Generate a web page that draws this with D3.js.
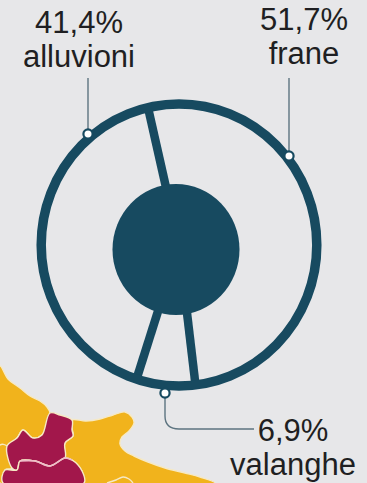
<!DOCTYPE html>
<html>
<head>
<meta charset="utf-8">
<script src="https://cdn.jsdelivr.net/npm/d3@7/dist/d3.min.js"></script>
<style>
  html, body { margin: 0; padding: 0; background: #e7e7e9; }
  svg { display: block; }
  text { font-family: "Liberation Sans", Arial, sans-serif; fill: #1f1f22; }
</style>
</head>
<body>
<svg id="chart" width="367" height="483"></svg>
<script>
// Share of events by hazard type, in percent
const hazards = ["frane", "valanghe", "alluvioni"];
const shares = [51.7, 6.9, 41.4];
const shareLabels = ["51,7%", "6,9%", "41,4%"];

// Regional outlines of the map fragment behind the wheel (page pixels)
const coastNorth = [[0,366],[8,379],[20,388],[30,396],[40,401],[47,407],[50,413],[47,424],[42,435],[33,438],[23,430],[17,438],[7,446],[0,445]];
const inlandWest = [[0,445],[7,446],[12,468],[5,470],[3,483],[0,483]];
const heel = [[72,420],[86,421],[100,419],[113,415],[125,412],[132,417],[134,423],[129,431],[122,437],[120,444],[125,451],[134,456],[148,462],[165,468],[185,473],[200,477],[215,483],[84,483],[82,471],[72,460],[65,458],[65,443],[73,436],[72,428]];
const upperRegion = [[50,413],[60,415],[72,420],[72,430],[73,436],[65,443],[65,458],[50,466],[35,461],[20,461],[17,470],[12,468],[7,446],[17,438],[23,430],[33,438],[42,435]];
const lowerRegion = [[20,461],[35,461],[50,466],[65,458],[72,460],[82,471],[84,483],[3,483],[5,470],[17,470]];
const innerBorder = [[107,483],[116,480],[123,477],[129,479],[133,483]];

const svg = d3.select("#chart");
const ink = "#174a60";
const ring = { cx: 179, cy: 245, rx: 137.8, ry: 141 };
const hub = { cx: 176, cy: 249.5, rx: 63.5, ry: 65.5 };

const outline = d3.line().curve(d3.curveCatmullRomClosed.alpha(0.5));
const openOutline = d3.line().curve(d3.curveCatmullRom.alpha(0.5));

// Map fragment
const map = svg.append("g").attr("stroke", "#f6e9c4").attr("stroke-width", 1.4).attr("stroke-linejoin", "round");
[[coastNorth, "#f1b31c"], [inlandWest, "#f1b31c"], [heel, "#f1b31c"],
 [upperRegion, "#a2174b"], [lowerRegion, "#a2174b"]].forEach(([pts, fill]) => {
  map.append("path").attr("d", outline(pts)).attr("fill", fill);
});
map.append("path").attr("d", openOutline(innerBorder)).attr("fill", "none");
svg.append("path").attr("d", openOutline(lowerRegion.slice(0, 5)))
  .attr("fill", "none").attr("stroke", "#eebcc9").attr("stroke-width", 1.6);

// Wheel: one spoke at each slice boundary of the pie layout
const pie = d3.pie().sort(null)
  .startAngle(-13 * Math.PI / 180)
  .endAngle((360 - 13) * Math.PI / 180);
const slices = pie(shares);
const onRing = (angle, k) => [ring.cx + k * ring.rx * Math.sin(angle), ring.cy - k * ring.ry * Math.cos(angle)];

const wheel = svg.append("g");
wheel.selectAll("line.spoke")
  .data(slices)
  .join("line")
  .attr("class", "spoke")
  .attr("x1", d => onRing(d.startAngle, 0.4)[0])
  .attr("y1", d => onRing(d.startAngle, 0.4)[1])
  .attr("x2", d => onRing(d.startAngle, 1)[0])
  .attr("y2", d => onRing(d.startAngle, 1)[1])
  .attr("stroke", ink)
  .attr("stroke-width", 8.5);
wheel.append("ellipse")
  .attr("cx", ring.cx).attr("cy", ring.cy).attr("rx", ring.rx).attr("ry", ring.ry)
  .attr("fill", "none").attr("stroke", ink).attr("stroke-width", 9.5);
wheel.append("ellipse")
  .attr("cx", hub.cx).attr("cy", hub.cy).attr("rx", hub.rx).attr("ry", hub.ry)
  .attr("fill", ink);

// Leader lines with their anchor dots
const leaderColor = "#5d7480";
const leaders = [d3.path(), d3.path(), d3.path()];
leaders[0].moveTo(289, 78); leaders[0].lineTo(289, 156);
leaders[1].moveTo(165, 393); leaders[1].lineTo(165, 416);
leaders[1].quadraticCurveTo(165, 429, 179, 429); leaders[1].lineTo(254, 429);
leaders[2].moveTo(88, 78); leaders[2].lineTo(88, 134);
const anchors = [[289, 156], [165, 393], [88, 134]];

svg.selectAll("path.leader")
  .data(leaders)
  .join("path")
  .attr("class", "leader")
  .attr("d", d => d.toString())
  .attr("fill", "none")
  .attr("stroke", leaderColor)
  .attr("stroke-width", 1.4);
svg.selectAll("circle.anchor")
  .data(anchors)
  .join("circle")
  .attr("class", "anchor")
  .attr("cx", d => d[0]).attr("cy", d => d[1])
  .attr("r", 4.6)
  .attr("fill", "#fff")
  .attr("stroke", ink)
  .attr("stroke-width", 2.2);

// Labels: percentage above, hazard name below
const labelPlaces = [
  { x: 304, y1: 30, y2: 64 },
  { x: 293, y1: 441, y2: 475 },
  { x: 79, y1: 33, y2: 67 }
];
hazards.forEach((name, i) => {
  const p = labelPlaces[i];
  const label = svg.append("text")
    .attr("text-anchor", "middle")
    .attr("font-size", 31);
  label.append("tspan").attr("x", p.x).attr("y", p.y1).text(shareLabels[i]);
  label.append("tspan").attr("x", p.x).attr("y", p.y2).text(name);
});
</script>
</body>
</html>
